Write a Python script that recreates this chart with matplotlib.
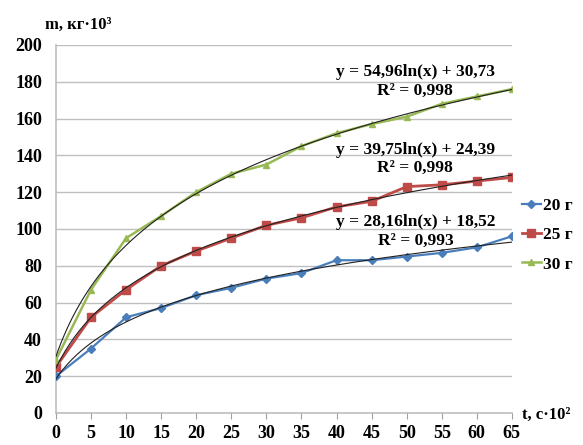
import numpy as np
import matplotlib
matplotlib.use("Agg")
import matplotlib.pyplot as plt

plt.rcParams['font.family'] = ['Liberation Serif', 'DejaVu Serif']
plt.rcParams['font.weight'] = 'bold'

t_labels = [0, 5, 10, 15, 20, 25, 30, 35, 40, 45, 50, 55, 60, 65]
m20 = [20, 35, 52, 57, 64, 68, 73, 76, 83, 83, 85, 87, 90, 96]
m25 = [25, 52, 67, 80, 88, 95, 102, 106, 112, 115, 123, 124, 126, 128]
m30 = [29, 67, 95, 107, 120, 130, 135, 145, 152, 157, 161, 168, 172, 176]
series_names = ["20 г", "25 г", "30 г"]
# trend coefficients (a*ln(x)+b), x = category index starting at 1
trend_a = [28.16, 39.75, 54.96]
trend_b = [18.52, 24.39, 30.73]
eq_texts = ["y = 28,16ln(x) + 18,52\nR² = 0,993",
            "y = 39,75ln(x) + 24,39\nR² = 0,998",
            "y = 54,96ln(x) + 30,73\nR² = 0,998"]

colors = ["#4A7EBB", "#BE4B48", "#98B954"]
markers = ["D", "s", "^"]
msizes = [4, 6, 5]
lws = [1.6, 2, 1.8]

fig = plt.figure(figsize=(5.83, 4.45), dpi=100)
ax = fig.add_axes([0.096, 0.072, 0.782, 0.827])

idx = np.arange(len(t_labels))
handles = []
for data, c, mk, ms, lw, name in zip([m20, m25, m30], colors, markers, msizes, lws, series_names):
    h, = ax.plot(idx, data, color=c, marker=mk, markersize=ms, lw=lw, label=name)
    handles.append(h)

xs = np.linspace(1, len(t_labels), 200)
for a, b in zip(trend_a, trend_b):
    ax.plot(xs - 1, a * np.log(xs) + b, color='#202020', lw=0.8, zorder=3)

# equation labels
eq_pos = [(10.25, 108), (10.25, 147.5), (10.25, 189.5)]
for (x, y), s in zip(eq_pos, eq_texts):
    ax.text(x, y, s, ha='center', va='top', fontsize=12.5, fontweight='bold',
            linespacing=1.2)

ax.set_xlim(0, 13)
ax.set_ylim(0, 200)
ax.set_yticks(range(0, 201, 20))
ax.set_xticks(idx)
ax.set_xticklabels([str(v) for v in t_labels])
ax.tick_params(axis='both', labelsize=13, color='#A0A0A0')
ax.tick_params(axis='y', length=0, pad=10)
ax.tick_params(axis='x', length=4, direction='out', pad=5)
for lbl in ax.get_xticklabels() + ax.get_yticklabels():
    lbl.set_fontweight('bold')

ax.grid(axis='y', color='#BFBFBF', lw=1)
ax.set_axisbelow(True)
for s in ['top', 'right']:
    ax.spines[s].set_visible(False)
ax.spines['left'].set_color('#BFBFBF')
ax.spines['bottom'].set_color('#BFBFBF')
ax.spines['left'].set_linewidth(1.2)
ax.spines['bottom'].set_linewidth(1.2)
for sp in ax.spines.values():
    sp.set_zorder(0.5)

fig.text(0.077, 0.944, "m, кг·10³", fontsize=12, fontweight='bold', va='center')
fig.text(0.895, 0.068, "t, с·10²", fontsize=12, fontweight='bold', va='center')

leg = fig.legend(handles=handles, loc='upper left', bbox_to_anchor=(0.895, 0.555),
                 frameon=False, fontsize=12.5, handlelength=1.1, handletextpad=0.1,
                 labelspacing=0.75, borderaxespad=0, borderpad=0)

fig.savefig("out.png", dpi=100)
